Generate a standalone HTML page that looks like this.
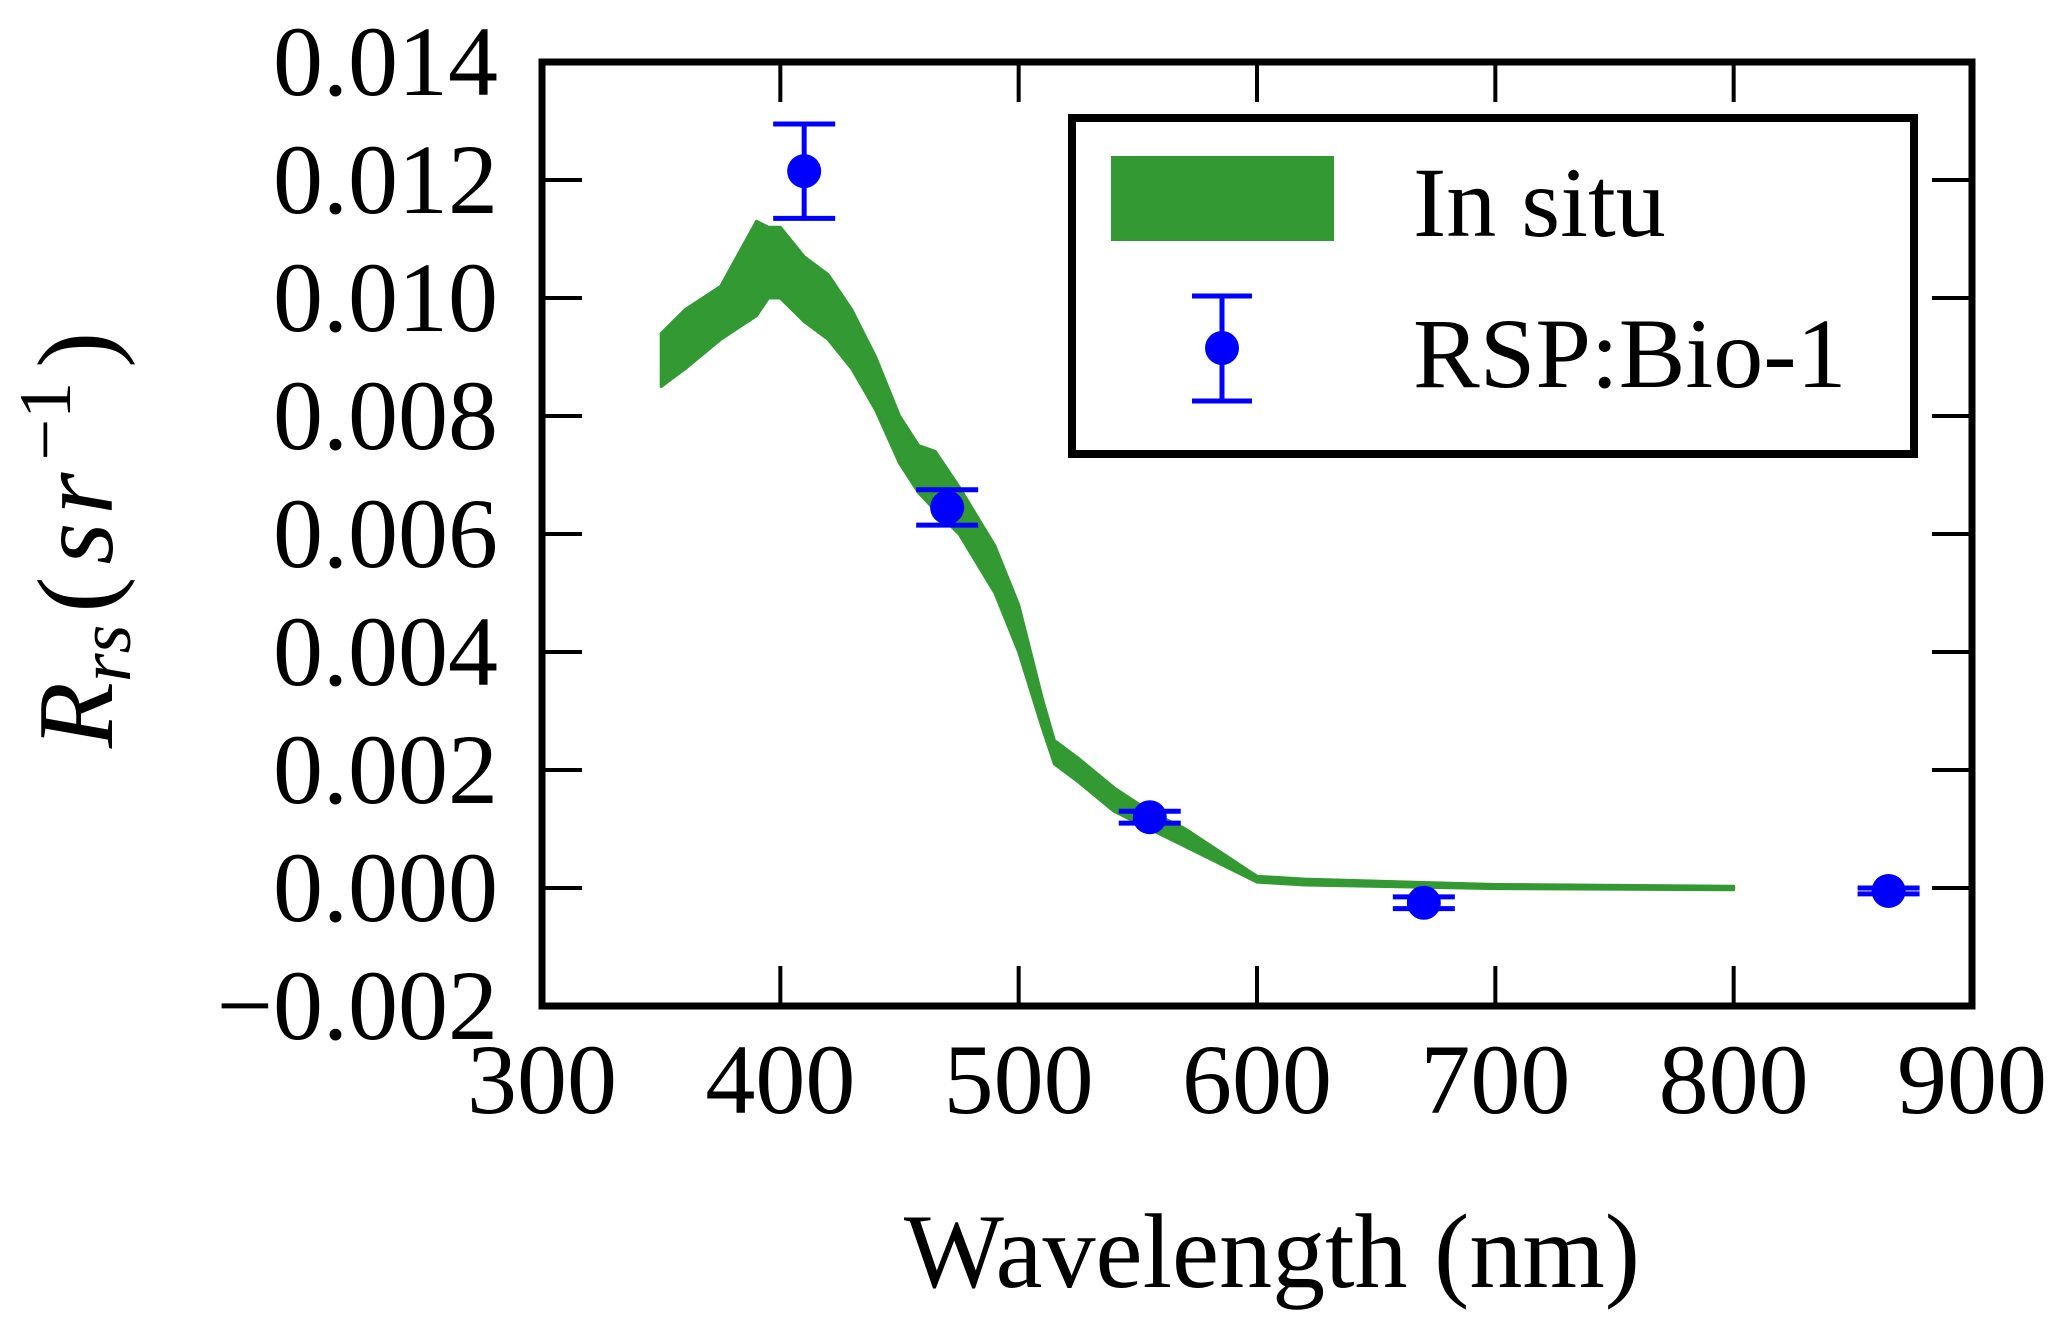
<!DOCTYPE html>
<html><head><meta charset="utf-8"><style>
html,body{margin:0;padding:0;background:#fff;}
svg text{font-family:"Liberation Serif",serif;fill:#000;}
</style></head><body>
<svg id="chart" width="2067" height="1314" viewBox="0 0 2067 1314" xmlns="http://www.w3.org/2000/svg">
<g id="band"></g>
<g id="pts"></g>
<g id="axes"></g>
<text x="1272" y="1287" font-size="106" text-anchor="middle">Wavelength (nm)</text>
<text transform="translate(112,540) rotate(-90)" font-size="108" text-anchor="middle"><tspan font-style="italic">R</tspan><tspan font-style="italic" font-size="74" dy="18">rs</tspan><tspan dy="-18" dx="12">(</tspan><tspan font-style="italic" dx="12" letter-spacing="8">sr</tspan><tspan font-size="74" dy="-42" dx="4">−1</tspan><tspan dy="42" dx="14">)</tspan></text>
<g>
<rect x="1072" y="118" width="842" height="336" fill="#fff" stroke="#000" stroke-width="8"/>
<rect x="1111" y="156" width="223" height="85" fill="#339933"/>
<text x="1413" y="236" font-size="100">In situ</text>
<line x1="1222" y1="296" x2="1222" y2="401" stroke="#0000ff" stroke-width="5"/>
<line x1="1192" y1="296" x2="1252" y2="296" stroke="#0000ff" stroke-width="5"/>
<line x1="1192" y1="401" x2="1252" y2="401" stroke="#0000ff" stroke-width="5"/>
<circle cx="1222" cy="348" r="17" fill="#0000ff"/>
<text x="1413" y="387" font-size="100">RSP:Bio-1</text>
</g>
</svg>
<script>
const bandX=[350,360,375,390,395,400,410,420,430,440,450,458,465,475,490,500,510,515,525,540,555,570,585,600,620,700,800];
const bandUpper=[0.0094,0.0098,0.0102,0.0113,0.0112,0.0112,0.0107,0.0104,0.0098,0.0090,0.0080,0.0075,0.0074,0.0068,0.0058,0.0048,0.0032,0.0025,0.0022,0.0017,0.0013,0.0010,0.0006,0.0002,0.00015,0.00006,0.00003];
const bandLower=[0.0085,0.0088,0.0093,0.0097,0.0100,0.0100,0.0096,0.0093,0.0088,0.0081,0.0072,0.0067,0.0064,0.0060,0.0050,0.0040,0.0027,0.0021,0.0018,0.0013,0.0010,0.0007,0.0004,0.0001,0.00005,-0.00001,-0.00003];
const ptX=[410,470,555,670,865];
const ptY=[0.01215,0.00645,0.0012,-0.00025,-0.00005];
const ptErr=[0.0008,0.0003,0.0001,0.0001,0.00005];
const xTicks=[300,400,500,600,700,800,900];
const yTicks=[-0.002,0,0.002,0.004,0.006,0.008,0.010,0.012,0.014];
const yTickLabels=["\u22120.002","0.000","0.002","0.004","0.006","0.008","0.010","0.012","0.014"];
const L=542,R=1972,T=62,B=1006;
const sx=v=>L+(v-300)/600*(R-L);
const sy=v=>B-(v+0.002)/0.016*(B-T);
const NS="http://www.w3.org/2000/svg";
function mk(tag,attrs,parent){const e=document.createElementNS(NS,tag);for(const k in attrs)e.setAttribute(k,attrs[k]);parent.appendChild(e);return e;}
let d="M"+bandX.map((x,i)=>sx(x)+","+sy(bandUpper[i])).join("L");
for(let i=bandX.length-1;i>=0;i--)d+="L"+sx(bandX[i])+","+sy(bandLower[i]);
d+="Z";
const band=mk("path",{d:d,fill:"#339933",stroke:"#339933","stroke-width":3,"stroke-linejoin":"round"},document.getElementById("band"));


const pg=document.getElementById("pts");
ptX.forEach((x,i)=>{
  const cx=sx(x),y1=sy(ptY[i]+ptErr[i]),y2=sy(ptY[i]-ptErr[i]);
  const g=mk("g",{},pg);
  
  
  mk("line",{x1:cx,y1:y1,x2:cx,y2:y2,stroke:"#0000ff","stroke-width":5},g);
  mk("line",{x1:cx-31,y1:y1,x2:cx+31,y2:y1,stroke:"#0000ff","stroke-width":5},g);
  mk("line",{x1:cx-31,y1:y2,x2:cx+31,y2:y2,stroke:"#0000ff","stroke-width":5},g);
  mk("circle",{cx:cx,cy:sy(ptY[i]),r:17,fill:"#0000ff"},g);
});
const ax=document.getElementById("axes");
xTicks.forEach(v=>{
  const x=sx(v);
  const t1=mk("line",{x1:x,y1:B,x2:x,y2:B-40,stroke:"#000","stroke-width":4},ax);
  
  
  mk("line",{x1:x,y1:T,x2:x,y2:T+40,stroke:"#000","stroke-width":4},ax);
  const t=mk("text",{x:x,y:1113,"font-size":100,"text-anchor":"middle"},ax);
  t.textContent=v;
  
  
});
yTicks.forEach((v,i)=>{
  const y=sy(v);
  const t1=mk("line",{x1:L,y1:y,x2:L+40,y2:y,stroke:"#000","stroke-width":4},ax);
  
  
  mk("line",{x1:R,y1:y,x2:R-40,y2:y,stroke:"#000","stroke-width":4},ax);
  const t=mk("text",{x:498,y:y+33,"font-size":100,"text-anchor":"end"},ax);
  t.textContent=yTickLabels[i];
  
  
});
const fr=mk("rect",{x:L,y:T,width:R-L,height:B-T,fill:"none",stroke:"#000","stroke-width":7},ax);


</script>
</body></html>
